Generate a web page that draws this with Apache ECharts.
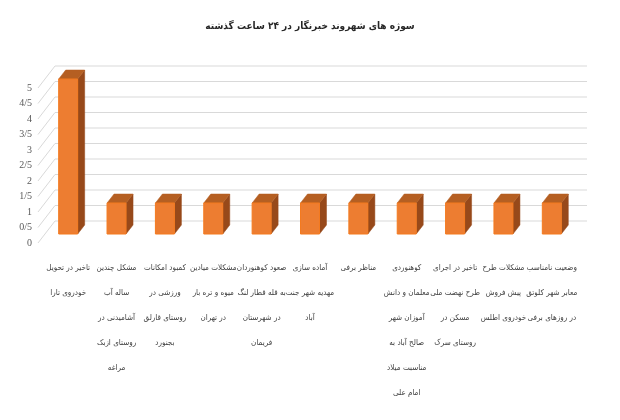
<!DOCTYPE html>
<html>
<head>
<meta charset="utf-8">
<script src="https://cdn.jsdelivr.net/npm/echarts@6/dist/echarts.min.js"></script>
<style>html,body{margin:0;padding:0;background:#fff;}#c{width:620px;height:420px;}</style>
</head>
<body>
<div id="c"></div>
<script>
const titleText = 'سوژه های شهروند خبرنگار در ۲۴ ساعت گذشته';
const categories = [
  'تاخیر در تحویل\nخودروی تارا',
  'مشکل چندین\nساله آب\nآشامیدنی در\nروستای ازبک\nمراغه',
  'کمبود امکانات\nورزشی در\nروستای قارلق\nبجنورد',
  'مشکلات میادین\nمیوه و تره بار\nدر تهران',
  'صعود کوهنوردان\nبه قله قطار لنگ\nدر شهرستان\nفریمان',
  'آماده سازی\nمهدیه شهر جنت\nآباد',
  'مناظر برفی',
  'کوهنوردی\nمعلمان و دانش\nآموزان شهر\nصالح آباد به\nمناسبت میلاد\nامام علی',
  'تاخیر در اجرای\nطرح نهضت ملی\nمسکن در\nروستای سرک',
  'مشکلات طرح\nپیش فروش\nخودروی اطلس',
  'وضعیت نامناسب\nمعابر شهر کلوتق\nدر روزهای برفی'
];
const values = [5, 1, 1, 1, 1, 1, 1, 1, 1, 1, 1];
const yTickValues = [0, 0.5, 1, 1.5, 2, 2.5, 3, 3.5, 4, 4.5, 5];
const yTickLabels = ['0', '0/5', '1', '1/5', '2', '2/5', '3', '3/5', '4', '4/5', '5'];

const chart = echarts.init(document.getElementById('c'), null, {renderer: 'canvas'});

// 3D look parameters (pixels)
const WALL = [17, -22];   // back wall offset from front plane
const BARPOS = [6, -9];   // bar front face offset from front plane
const DEPTH = [7, -9];    // bar depth
const HALF = 9.5;

const option = {
  animation: false,
  backgroundColor: '#ffffff',
  title: {
    text: titleText,
    left: 'center',
    top: 16,
    textStyle: {fontFamily: 'DejaVu Sans Condensed', fontSize: 10, fontWeight: 'bold', color: '#262626'}
  },
  grid: {left: 38, right: 50, top: 88, bottom: 177, containLabel: false},
  xAxis: {
    type: 'category',
    data: categories,
    axisLine: {show: false},
    axisTick: {show: false},
    splitLine: {show: false},
    axisLabel: {
      interval: 0,
      margin: 12,
      padding: [0, 0, 0, 12],
      lineHeight: 25,
      fontSize: 8,
      fontFamily: 'DejaVu Sans Condensed',
      color: '#404040'
    }
  },
  yAxis: {
    type: 'value',
    min: 0,
    max: 5,
    interval: 0.5,
    axisLine: {show: false},
    axisTick: {show: false},
    splitLine: {show: false},
    axisLabel: {
      margin: 6,
      fontSize: 10,
      fontFamily: 'Liberation Sans Narrow',
      color: '#595959',
      formatter: function (v) {
        const i = yTickValues.indexOf(v);
        return i >= 0 ? yTickLabels[i] : '';
      }
    }
  },
  series: [
    {
      type: 'custom',
      clip: false,
      silent: true,
      z: 1,
      data: yTickValues.map(v => [0, v]),
      encode: {x: 0, y: 1},
      renderItem: function (params, api) {
        const cs = params.coordSys;
        const y = api.coord([0, api.value(1)])[1];
        const style = {stroke: '#d9d9d9', lineWidth: 1, fill: null};
        return {
          type: 'group',
          children: [
            {type: 'line', shape: {x1: cs.x, y1: y, x2: cs.x + WALL[0], y2: y + WALL[1]}, style: style},
            {type: 'line', shape: {x1: cs.x + WALL[0], y1: y + WALL[1], x2: cs.x + cs.width + WALL[0], y2: y + WALL[1]}, style: style}
          ]
        };
      }
    },
    {
      type: 'custom',
      clip: false,
      z: 2,
      data: values.map((v, i) => [i, v]),
      encode: {x: 0, y: 1},
      renderItem: function (params, api) {
        const i = api.value(0);
        const p0 = api.coord([i, 0]);
        const p1 = api.coord([i, api.value(1)]);
        const cx = p0[0] + BARPOS[0];
        const yb = p0[1] + BARPOS[1];
        const yt = p1[1] + BARPOS[1];
        const x0 = cx - HALF, x1 = cx + HALF;
        const dx = DEPTH[0], dy = DEPTH[1];
        return {
          type: 'group',
          children: [
            {type: 'polygon', shape: {points: [[x1, yt], [x1 + dx, yt + dy], [x1 + dx, yb + dy], [x1, yb]]},
             style: {fill: '#97491a', stroke: '#97491a', lineWidth: 0.5}},
            {type: 'polygon', shape: {points: [[x0, yt], [x1, yt], [x1 + dx, yt + dy], [x0 + dx, yt + dy]]},
             style: {fill: '#b55f22', stroke: '#b55f22', lineWidth: 0.5}},
            {type: 'rect', shape: {x: x0, y: yt, width: x1 - x0, height: yb - yt},
             style: {fill: '#ed7d31', stroke: '#f47a1f', lineWidth: 1}}
          ]
        };
      }
    }
  ]
};
chart.setOption(option);
</script>
</body>
</html>
